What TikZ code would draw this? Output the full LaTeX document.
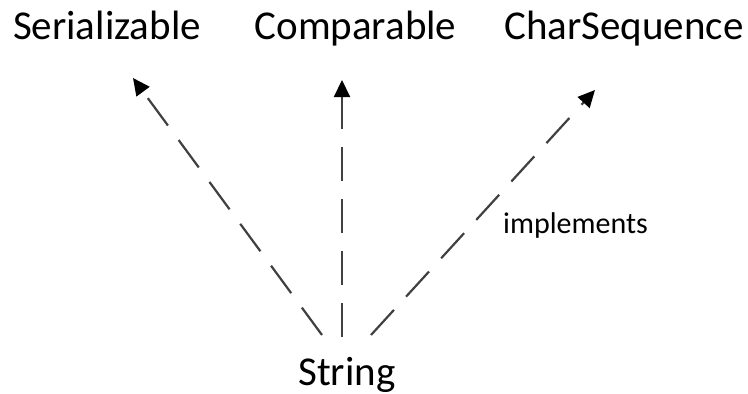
\documentclass[tikz,border=0pt]{standalone}
\usepackage{fontspec}
\setmainfont{Carlito}
\usetikzlibrary{arrows.meta}
\begin{document}
\begin{tikzpicture}[x=1pt,y=-1pt,
  lbl/.style={anchor=base,inner sep=0pt,font=\fontsize{41}{41}\selectfont},
  small/.style={anchor=base,inner sep=0pt,font=\fontsize{30}{30}\selectfont},
  impl/.style={draw=black!75,line width=2.2pt,dash pattern=on 34pt off 18pt,
    -{Triangle[length=17pt,width=16pt,color=black]}}]
\useasboundingbox (0,0) rectangle (748,394);
\node[lbl] (ser) at (107,39) {Serializable};
\node[lbl] (comp) at (355.5,39) {Comparable};
\node[lbl] (cs) at (624,39) {CharSequence};
\node[lbl] (str) at (347,385) {String};
\node[small] (imp) at (575.5,233) {implements};
\coordinate (s1) at (322,335);
\coordinate (s2) at (342,337);
\coordinate (s3) at (371,335);
\coordinate (t1) at (133,78);
\coordinate (t2) at (342,80);
\coordinate (t3) at (595,90);
\draw[impl] (s1) -- (t1);
\draw[impl] (s2) -- (t2);
\draw[impl] (s3) -- (t3);
\end{tikzpicture}
\end{document}
